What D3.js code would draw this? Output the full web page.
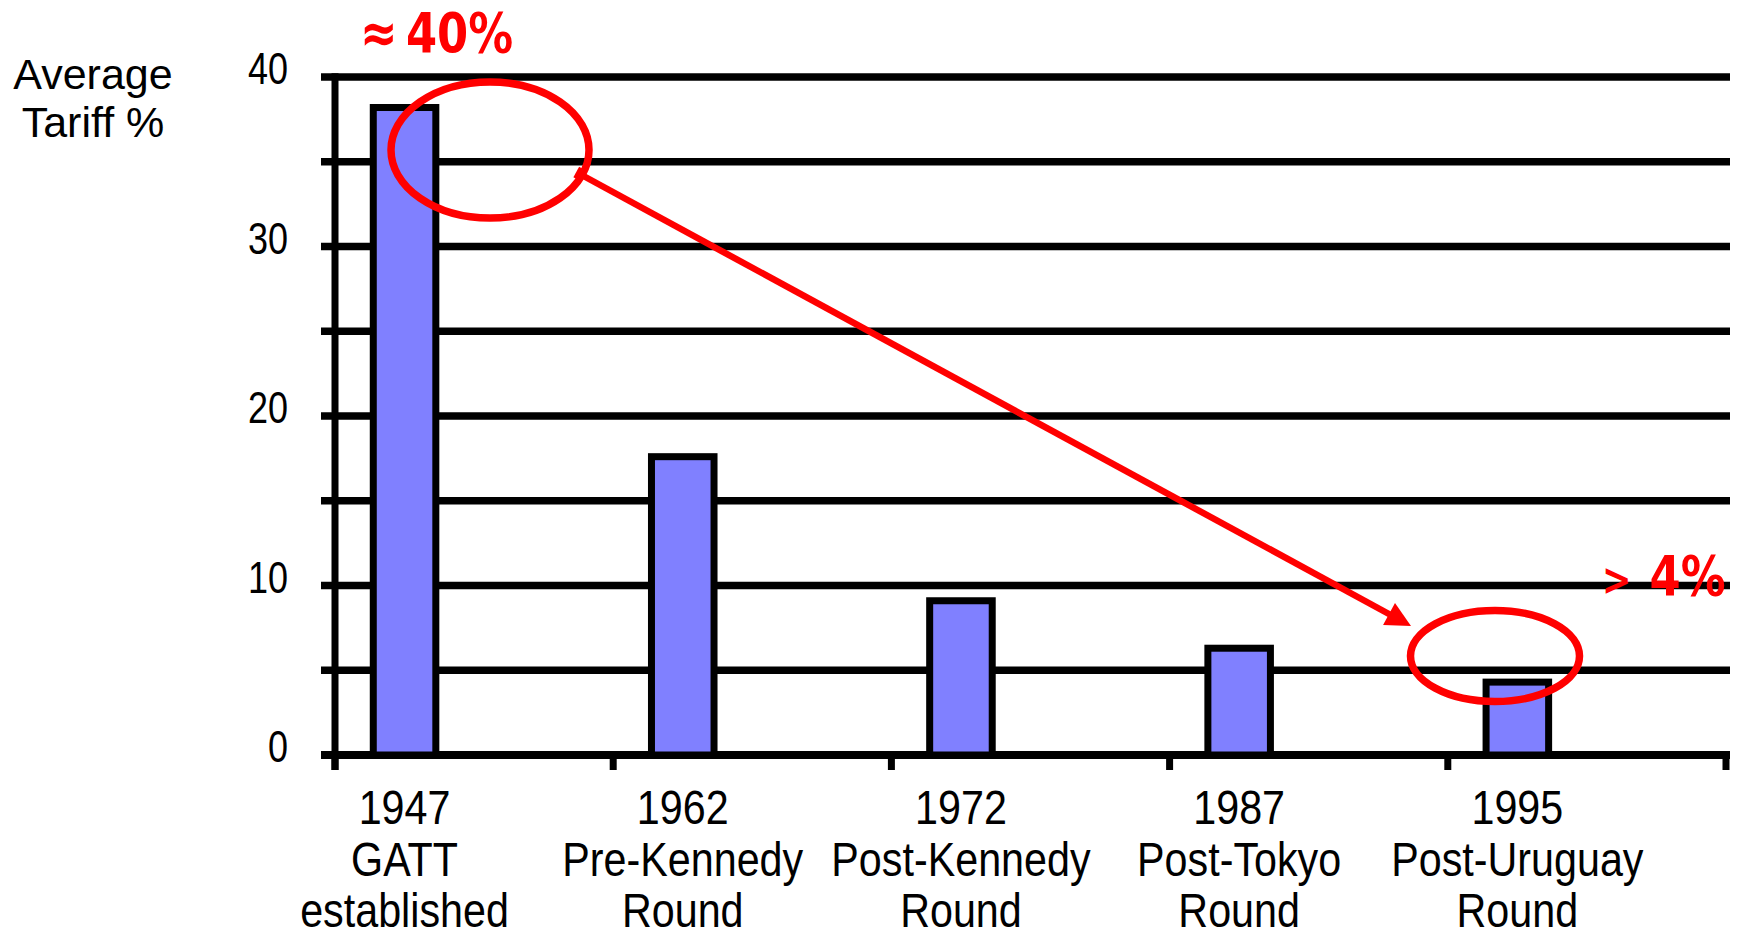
<!DOCTYPE html>
<html>
<head>
<meta charset="utf-8">
<script src="https://cdn.jsdelivr.net/npm/d3@7"></script>
<style>
  body { margin: 0; background: #fff; }
  svg { display: block; }
</style>
</head>
<body>
<div class="chart"></div>
<script>
// data
var years = ["1947", "1962", "1972", "1987", "1995"];
var roundNames = [["GATT", "established"], ["Pre-Kennedy", "Round"], ["Post-Kennedy", "Round"], ["Post-Tokyo", "Round"], ["Post-Uruguay", "Round"]];
var tariffs = [38.2, 17.6, 9.1, 6.3, 4.3];
var gridValues = [5, 10, 15, 20, 25, 30, 35, 40];
var tickLabels = [0, 10, 20, 30, 40];

var svgWidth = 1748;
var svgHeight = 931;

var margin = {
  top: 77,
  right: 22,
  bottom: 176,
  left: 335
};

var chartWidth = svgWidth - margin.left - margin.right;
var chartHeight = svgHeight - margin.top - margin.bottom;

var svg = d3.select(".chart")
  .append("svg")
  .attr("width", svgWidth)
  .attr("height", svgHeight);

var chartGroup = svg.append("g")
  .attr("transform", `translate(${margin.left}, ${margin.top})`);

var xScale = d3.scaleBand()
  .domain(years)
  .range([0, chartWidth])
  .padding(0);

var yScale = d3.scaleLinear()
  .domain([0, 40])
  .range([chartHeight, 0]);

var bw = xScale.bandwidth();
var barStroke = 7;

// gridlines (they also make the little ticks left of the axis)
chartGroup.selectAll(".grid")
  .data(gridValues)
  .enter()
  .append("line")
  .attr("x1", -14)
  .attr("x2", chartWidth + 4)
  .attr("y1", d => yScale(d))
  .attr("y2", d => yScale(d))
  .attr("stroke", "#000")
  .attr("stroke-width", 7.5);

// x axis line
chartGroup.append("line")
  .attr("x1", -14)
  .attr("x2", chartWidth + 4)
  .attr("y1", yScale(0))
  .attr("y2", yScale(0))
  .attr("stroke", "#000")
  .attr("stroke-width", 8);

// y axis line
chartGroup.append("line")
  .attr("x1", 0)
  .attr("x2", 0)
  .attr("y1", yScale(40) - 3.75)
  .attr("y2", yScale(0) + 15)
  .attr("stroke", "#000")
  .attr("stroke-width", 7);

// x ticks on category boundaries
var boundaries = years.map(d => xScale(d)).concat([chartWidth]);
chartGroup.selectAll(".xtick")
  .data(boundaries)
  .enter()
  .append("line")
  .attr("x1", d => d)
  .attr("x2", d => d)
  .attr("y1", yScale(0))
  .attr("y2", yScale(0) + 15)
  .attr("stroke", "#000")
  .attr("stroke-width", 7);

// bars
chartGroup.selectAll(".bar")
  .data(tariffs)
  .enter()
  .append("rect")
  .attr("x", (d, i) => xScale(years[i]) + bw * 0.125 + barStroke / 2)
  .attr("width", bw * 0.25 - barStroke)
  .attr("y", d => yScale(d))
  .attr("height", d => yScale(0) - yScale(d))
  .attr("fill", "#8080ff")
  .attr("stroke", "#000")
  .attr("stroke-width", barStroke);

// y tick labels
chartGroup.selectAll(".ylabel")
  .data(tickLabels)
  .enter()
  .append("text")
  .attr("transform", d => `translate(-47, ${yScale(d) + 7}) scale(0.8, 1)`)
  .attr("text-anchor", "end")
  .attr("font-family", "Liberation Sans, Arial, sans-serif")
  .attr("font-size", 45)
  .text(d => d);

// category labels
var catGroups = chartGroup.selectAll(".cat")
  .data(years)
  .enter()
  .append("g")
  .attr("transform", d => `translate(${xScale(d) + bw * 0.25}, 0)`);

catGroups.each(function(d, i) {
  var lines = [d].concat(roundNames[i]);
  d3.select(this).selectAll("text")
    .data(lines)
    .enter()
    .append("text")
    .attr("transform", (t, j) => `translate(0, ${chartHeight + 69 + j * 51.5}) scale(0.86, 1)`)
    .attr("text-anchor", "middle")
    .attr("font-family", "Liberation Sans, Arial, sans-serif")
    .attr("font-size", 48)
    .text(t => t);
});

// y axis title
svg.append("text")
  .attr("x", 93)
  .attr("y", 89)
  .attr("text-anchor", "middle")
  .attr("font-family", "Liberation Sans, Arial, sans-serif")
  .attr("font-size", 43)
  .text("Average");

svg.append("text")
  .attr("x", 93)
  .attr("y", 137)
  .attr("text-anchor", "middle")
  .attr("font-family", "Liberation Sans, Arial, sans-serif")
  .attr("font-size", 43)
  .text("Tariff %");

// red annotations
var red = "#ff0000";

svg.append("ellipse")
  .attr("cx", 490)
  .attr("cy", 150)
  .attr("rx", 99)
  .attr("ry", 68)
  .attr("fill", "none")
  .attr("stroke", red)
  .attr("stroke-width", 7.5);

svg.append("ellipse")
  .attr("cx", 1495)
  .attr("cy", 656)
  .attr("rx", 84.5)
  .attr("ry", 45.5)
  .attr("fill", "none")
  .attr("stroke", red)
  .attr("stroke-width", 7.5);

var arrowStart = [578, 173];
var arrowTip = [1411, 626];
var dx = arrowTip[0] - arrowStart[0];
var dy = arrowTip[1] - arrowStart[1];
var len = Math.sqrt(dx * dx + dy * dy);
var ux = dx / len, uy = dy / len;
var headLen = 25, headHalf = 12.5;
var base = [arrowTip[0] - ux * headLen, arrowTip[1] - uy * headLen];

svg.append("line")
  .attr("x1", arrowStart[0])
  .attr("y1", arrowStart[1])
  .attr("x2", base[0] + ux * 2)
  .attr("y2", base[1] + uy * 2)
  .attr("stroke", red)
  .attr("stroke-width", 6.5);

// small notch at the start of the arrow
svg.append("line")
  .attr("x1", arrowStart[0] + uy * 6)
  .attr("y1", arrowStart[1] - ux * 6)
  .attr("x2", arrowStart[0] - uy * 6)
  .attr("y2", arrowStart[1] + ux * 6)
  .attr("stroke", red)
  .attr("stroke-width", 4);

svg.append("polygon")
  .attr("points", [
    arrowTip,
    [base[0] - uy * headHalf, base[1] + ux * headHalf],
    [base[0] + uy * headHalf, base[1] - ux * headHalf]
  ].map(p => p.join(",")).join(" "))
  .attr("fill", red);

svg.append("text")
  .attr("transform", "translate(360, 52) scale(0.8, 1)")
  .attr("font-family", "DejaVu Sans, Verdana, sans-serif")
  .attr("font-weight", "bold")
  .attr("font-size", 56)
  .attr("word-spacing", -9)
  .attr("fill", red)
  .text("≈ 40%");

var t4 = svg.append("text")
  .attr("transform", "translate(1602, 595) scale(0.8, 1)")
  .attr("font-family", "DejaVu Sans, Verdana, sans-serif")
  .attr("font-weight", "bold")
  .attr("font-size", 56)
  .attr("fill", red);
t4.append("tspan").attr("font-size", 44).text(">");
t4.append("tspan").attr("dx", 3).text(" 4%");
</script>
</body>
</html>
